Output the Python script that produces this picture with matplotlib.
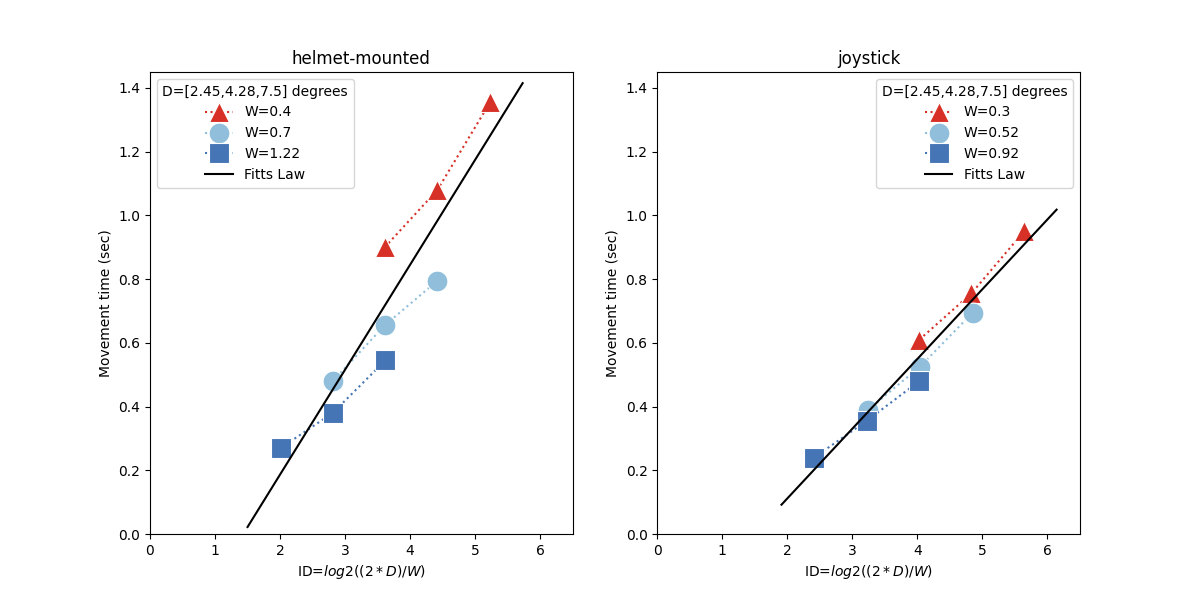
import matplotlib.pyplot as plt

# ID values and movement times
helmet_widths = ["0.4", "0.7", "1.22"]
helmet_id = [[3.61, 4.42, 5.23], [2.81, 3.61, 4.42], [2.01, 2.81, 3.62]]
helmet_mt = [[0.90, 1.08, 1.355], [0.48, 0.655, 0.795], [0.27, 0.38, 0.545]]
helmet_fitts_x = [1.5, 5.73]
helmet_fitts_y = [0.022, 1.415]

joy_widths = ["0.3", "0.52", "0.92"]
joy_id = [[4.03, 4.83, 5.64], [3.24, 4.04, 4.85], [2.41, 3.22, 4.03]]
joy_mt = [[0.61, 0.755, 0.95], [0.39, 0.525, 0.695], [0.24, 0.355, 0.48]]
joy_fitts_x = [1.91, 6.14]
joy_fitts_y = [0.092, 1.018]

colors = ["#d73027", "#91bfdb", "#4575b4"]
markers = ["^", "o", "s"]

fig, axes = plt.subplots(1, 2, figsize=(12, 6), dpi=100)

panels = [
    ("helmet-mounted", helmet_widths, helmet_id, helmet_mt, helmet_fitts_x, helmet_fitts_y, "upper left"),
    ("joystick", joy_widths, joy_id, joy_mt, joy_fitts_x, joy_fitts_y, "upper right"),
]

for ax, (title, widths, ids, mts, fx, fy, loc) in zip(axes, panels):
    for w, x, y, c, m in zip(widths, ids, mts, colors, markers):
        ax.plot(x, y, linestyle=":", color=c, marker=m, markersize=15,
                markeredgecolor="white", markeredgewidth=0.8, label=f"W={w}")
    ax.plot(fx, fy, color="black", label="Fitts Law")
    ax.set_xlim(0, 6.5)
    ax.set_ylim(0, 1.45)
    ax.set_title(title)
    ax.set_xlabel("ID=$log2((2*D)/W)$")
    ax.set_ylabel("Movement time (sec)")
    ax.legend(loc=loc, title="D=[2.45,4.28,7.5] degrees")

plt.savefig("out.png")
